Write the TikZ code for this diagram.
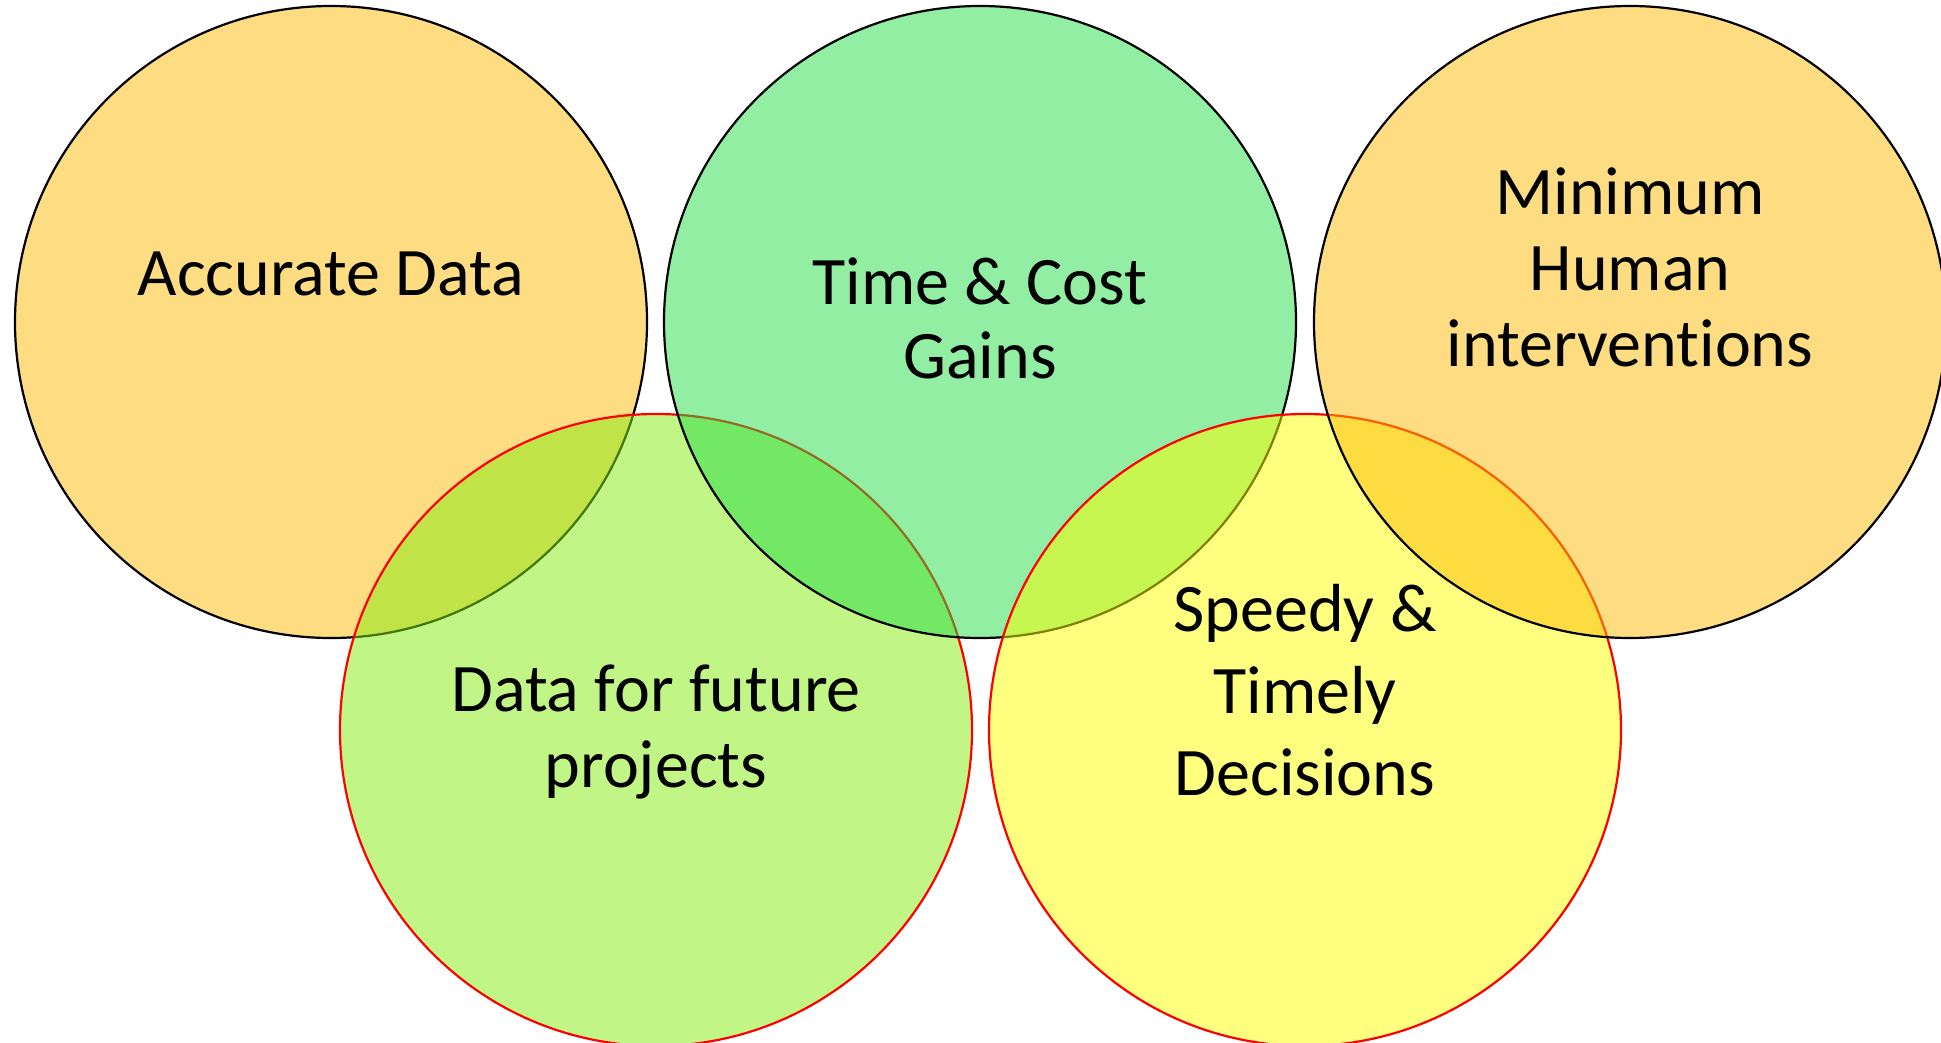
\documentclass[tikz,border=0pt]{standalone}
\usepackage{fontspec}
\setmainfont[Ligatures=NoCommon]{Carlito}
\definecolor{cOrange}{RGB}{253,187,5}
\definecolor{cGreen}{RGB}{37,221,71}
\definecolor{cLime}{RGB}{131,235,13}
\definecolor{cYellow}{RGB}{255,255,0}
\tikzset{
  bubble/.style={circle, minimum size=632pt, inner sep=0pt, line width=2.2pt, fill opacity=0.5, draw opacity=1},
  topbubble/.style={bubble, draw=black},
  lowbubble/.style={bubble, draw=red},
  lbl/.style={anchor=base, align=center, inner sep=0pt, text=black, font=\fontsize{68}{76}\selectfont},
}
\begin{document}
\begin{tikzpicture}[x=1pt,y=-1pt]
\useasboundingbox (0,0) rectangle (1941,1042);
\begin{scope}
\clip (0,0) rectangle (1941,1042);
\node[topbubble, fill=cOrange] (c1) at (331,322) {};
\node[lowbubble, fill=cLime] (c4) at (656,730) {};
\node[topbubble, fill=cGreen] (c2) at (980,322) {};
\node[lowbubble, fill=cYellow] (c5) at (1305,730) {};
\node[topbubble, fill=cOrange] (c3) at (1630,322) {};
\end{scope}
\node[lbl] (t1) at (331,295) {Accurate Data};
\node[lbl, font=\fontsize{68}{74}\selectfont] (t2) at (980,378) {Time \& Cost\\Gains};
\node[lbl] (t3) at (1630,366) {Minimum\\Human\\interventions};
\node[lbl] (t4) at (656,787) {Data for future\\projects};
\node[lbl, font=\fontsize{68}{82}\selectfont] (t5) at (1305,795) {Speedy \&\\Timely\\Decisions};
\end{tikzpicture}
\end{document}
